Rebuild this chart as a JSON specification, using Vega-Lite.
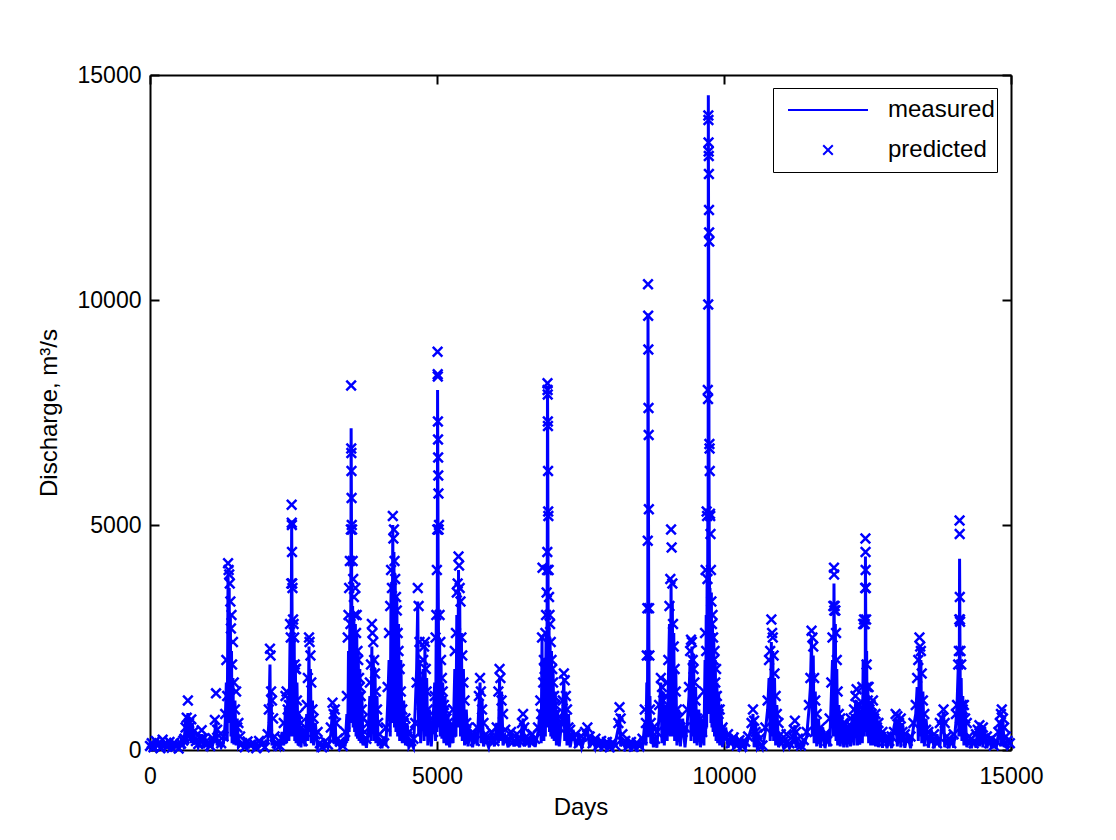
{
"$schema": "https://vega.github.io/schema/vega-lite/v6.json",
"width": 861, "height": 675,
"autosize": {"type": "none"},
"padding": {"left": 150, "top": 75, "right": 105, "bottom": 90},
"background": "white",
"data": {"values": [
{"day":0,"measured":120,"predicted":90},{"day":30,"measured":40,"predicted":150},{"day":60,"measured":180,"predicted":60},{"day":100,"measured":60,"predicted":200},{"day":140,"measured":210,"predicted":110},{"day":180,"measured":80,"predicted":40},{"day":220,"measured":150,"predicted":230},{"day":260,"measured":30,"predicted":120},{"day":300,"measured":190,"predicted":70},{"day":340,"measured":70,"predicted":180},{"day":380,"measured":140,"predicted":50},{"day":420,"measured":40,"predicted":160},{"day":460,"measured":170,"predicted":90},{"day":500,"measured":60,"predicted":30},{"day":540,"measured":200,"predicted":140},{"day":580,"measured":90,"predicted":210},
{"day":600,"measured":300,"predicted":250},{"day":620,"measured":650,"predicted":500},{"day":640,"measured":180,"predicted":720},{"day":660,"measured":820,"predicted":1100},{"day":680,"measured":250,"predicted":600},{"day":700,"measured":700,"predicted":520},{"day":720,"measured":150,"predicted":680},{"day":740,"measured":560,"predicted":300},{"day":770,"measured":120,"predicted":420},{"day":800,"measured":250,"predicted":200},{"day":840,"measured":60,"predicted":130},{"day":880,"measured":180,"predicted":240},{"day":900,"measured":350,"predicted":440},{"day":930,"measured":70,"predicted":250},{"day":970,"measured":220,"predicted":180},{"day":1010,"measured":50,"predicted":150},{"day":1050,"measured":200,"predicted":90},{"day":1090,"measured":110,"predicted":260},
{"day":1130,"measured":400,"predicted":670},{"day":1150,"measured":650,"predicted":1260},{"day":1170,"measured":100,"predicted":450},{"day":1200,"measured":180,"predicted":320},{"day":1240,"measured":60,"predicted":150},{"day":1280,"measured":150,"predicted":300},
{"day":1310,"measured":600,"predicted":800},{"day":1330,"measured":1500,"predicted":2000},{"day":1345,"measured":200,"predicted":1200},{"day":1360,"measured":3950,"predicted":4150},{"day":1370,"measured":800,"predicted":4000},{"day":1380,"measured":3600,"predicted":3900},{"day":1390,"measured":600,"predicted":3700},{"day":1400,"measured":3000,"predicted":3300},{"day":1410,"measured":300,"predicted":2700},{"day":1420,"measured":2200,"predicted":3000},{"day":1430,"measured":150,"predicted":1900},{"day":1445,"measured":1600,"predicted":2400},{"day":1460,"measured":120,"predicted":1500},{"day":1480,"measured":1100,"predicted":900},{"day":1500,"measured":100,"predicted":1300},{"day":1520,"measured":700,"predicted":500},{"day":1540,"measured":80,"predicted":600},{"day":1570,"measured":150,"predicted":300},
{"day":1610,"measured":80,"predicted":150},{"day":1650,"measured":200,"predicted":60},{"day":1700,"measured":60,"predicted":190},{"day":1750,"measured":170,"predicted":110},{"day":1800,"measured":50,"predicted":150},{"day":1850,"measured":150,"predicted":40},{"day":1900,"measured":90,"predicted":200},{"day":1950,"measured":210,"predicted":120},{"day":2000,"measured":70,"predicted":60},
{"day":2050,"measured":200,"predicted":350},{"day":2070,"measured":600,"predicted":900},{"day":2090,"measured":1900,"predicted":2250},{"day":2100,"measured":300,"predicted":2100},{"day":2110,"measured":1300,"predicted":1300},{"day":2125,"measured":100,"predicted":1100},{"day":2145,"measured":300,"predicted":700},{"day":2170,"measured":60,"predicted":300},{"day":2210,"measured":150,"predicted":150},{"day":2260,"measured":40,"predicted":90},{"day":2300,"measured":400,"predicted":250},{"day":2330,"measured":100,"predicted":600},
{"day":2360,"measured":900,"predicted":1200},{"day":2380,"measured":150,"predicted":1300},{"day":2400,"measured":1200,"predicted":900},{"day":2420,"measured":200,"predicted":1000},{"day":2440,"measured":2500,"predicted":2800},{"day":2452,"measured":300,"predicted":2500},{"day":2462,"measured":3000,"predicted":3700},{"day":2468,"measured":5100,"predicted":5450},{"day":2470,"measured":4600,"predicted":5050},{"day":2472,"measured":4000,"predicted":5000},{"day":2474,"measured":3300,"predicted":4400},{"day":2477,"measured":2600,"predicted":3700},{"day":2482,"measured":600,"predicted":3600},{"day":2492,"measured":2800,"predicted":2900},{"day":2502,"measured":300,"predicted":2800},{"day":2512,"measured":2500,"predicted":2500},{"day":2522,"measured":200,"predicted":1900},{"day":2532,"measured":2000,"predicted":1800},{"day":2545,"measured":150,"predicted":1800},{"day":2560,"measured":1500,"predicted":1100},{"day":2580,"measured":100,"predicted":800},{"day":2600,"measured":800,"predicted":450},{"day":2630,"measured":60,"predicted":600},{"day":2660,"measured":500,"predicted":200},
{"day":2700,"measured":80,"predicted":400},{"day":2730,"measured":800,"predicted":1000},{"day":2750,"measured":200,"predicted":1600},{"day":2770,"measured":2300,"predicted":2500},{"day":2780,"measured":400,"predicted":2400},{"day":2795,"measured":1800,"predicted":2100},{"day":2810,"measured":150,"predicted":1500},{"day":2830,"measured":1100,"predicted":900},{"day":2850,"measured":100,"predicted":700},{"day":2880,"measured":600,"predicted":350},{"day":2920,"measured":50,"predicted":400},{"day":2960,"measured":150,"predicted":150},{"day":3000,"measured":60,"predicted":60},{"day":3050,"measured":180,"predicted":190},{"day":3100,"measured":50,"predicted":120},
{"day":3150,"measured":350,"predicted":500},{"day":3180,"measured":900,"predicted":1050},{"day":3200,"measured":150,"predicted":800},{"day":3220,"measured":1000,"predicted":900},{"day":3240,"measured":100,"predicted":600},{"day":3270,"measured":250,"predicted":250},{"day":3310,"measured":50,"predicted":180},{"day":3360,"measured":200,"predicted":90},{"day":3400,"measured":80,"predicted":400},
{"day":3430,"measured":800,"predicted":1200},{"day":3445,"measured":200,"predicted":2500},{"day":3458,"measured":2200,"predicted":3000},{"day":3470,"measured":400,"predicted":3600},{"day":3482,"measured":3000,"predicted":4200},{"day":3492,"measured":600,"predicted":2800},{"day":3500,"measured":4000,"predicted":4900},{"day":3504,"measured":7150,"predicted":8100},{"day":3506,"measured":6500,"predicted":6700},{"day":3508,"measured":5800,"predicted":6600},{"day":3510,"measured":5000,"predicted":6200},{"day":3512,"measured":4200,"predicted":5600},{"day":3515,"measured":3500,"predicted":5000},{"day":3520,"measured":800,"predicted":4900},{"day":3530,"measured":3200,"predicted":4200},{"day":3540,"measured":500,"predicted":3800},{"day":3552,"measured":3000,"predicted":3400},{"day":3565,"measured":400,"predicted":3000},{"day":3578,"measured":2800,"predicted":3600},{"day":3590,"measured":300,"predicted":2600},{"day":3602,"measured":2600,"predicted":3000},{"day":3615,"measured":250,"predicted":2200},{"day":3628,"measured":2200,"predicted":2000},{"day":3642,"measured":200,"predicted":1600},{"day":3656,"measured":1800,"predicted":1400},{"day":3672,"measured":150,"predicted":1200},{"day":3690,"measured":1300,"predicted":900},{"day":3710,"measured":100,"predicted":700},{"day":3740,"measured":300,"predicted":400},{"day":3770,"measured":50,"predicted":250},
{"day":3800,"measured":400,"predicted":600},{"day":3830,"measured":1200,"predicted":1500},{"day":3850,"measured":200,"predicted":1900},{"day":3865,"measured":2300,"predicted":2800},{"day":3875,"measured":400,"predicted":2600},{"day":3890,"measured":2100,"predicted":2400},{"day":3905,"measured":200,"predicted":2000},{"day":3920,"measured":1800,"predicted":1700},{"day":3935,"measured":150,"predicted":1300},{"day":3955,"measured":1200,"predicted":900},{"day":3975,"measured":100,"predicted":600},{"day":4000,"measured":250,"predicted":350},{"day":4040,"measured":40,"predicted":200},{"day":4080,"measured":300,"predicted":150},{"day":4110,"measured":100,"predicted":500},
{"day":4140,"measured":1000,"predicted":1400},{"day":4165,"measured":2000,"predicted":2600},{"day":4185,"measured":300,"predicted":3200},{"day":4200,"measured":3700,"predicted":4000},{"day":4215,"measured":600,"predicted":3600},{"day":4230,"measured":5000,"predicted":5200},{"day":4240,"measured":800,"predicted":4700},{"day":4250,"measured":4400,"predicted":4900},{"day":4260,"measured":500,"predicted":4200},{"day":4272,"measured":3900,"predicted":3800},{"day":4285,"measured":400,"predicted":3400},{"day":4300,"measured":3400,"predicted":3100},{"day":4315,"measured":300,"predicted":2600},{"day":4330,"measured":2800,"predicted":2200},{"day":4350,"measured":200,"predicted":1800},{"day":4370,"measured":2000,"predicted":1300},{"day":4395,"measured":150,"predicted":900},{"day":4420,"measured":1100,"predicted":600},{"day":4450,"measured":100,"predicted":700},{"day":4480,"measured":600,"predicted":300},{"day":4510,"measured":60,"predicted":400},{"day":4550,"measured":150,"predicted":200},{"day":4590,"measured":50,"predicted":250},
{"day":4620,"measured":900,"predicted":600},{"day":4645,"measured":1800,"predicted":1500},{"day":4665,"measured":3300,"predicted":3600},{"day":4680,"measured":300,"predicted":3200},{"day":4695,"measured":2000,"predicted":2400},{"day":4715,"measured":150,"predicted":1400},{"day":4735,"measured":1200,"predicted":1000},{"day":4760,"measured":1800,"predicted":2000},{"day":4775,"measured":200,"predicted":2300},{"day":4790,"measured":2300,"predicted":2400},{"day":4805,"measured":300,"predicted":1800},{"day":4820,"measured":1600,"predicted":1300},{"day":4840,"measured":100,"predicted":900},{"day":4870,"measured":900,"predicted":500},{"day":4900,"measured":80,"predicted":700},{"day":4930,"measured":600,"predicted":400},
{"day":4960,"measured":1500,"predicted":1200},{"day":4975,"measured":200,"predicted":2500},{"day":4988,"measured":3000,"predicted":3000},{"day":4998,"measured":400,"predicted":4000},{"day":5006,"measured":4000,"predicted":4900},{"day":5010,"measured":8000,"predicted":8850},{"day":5012,"measured":7200,"predicted":8350},{"day":5014,"measured":6500,"predicted":8300},{"day":5016,"measured":5800,"predicted":7300},{"day":5018,"measured":5000,"predicted":6900},{"day":5020,"measured":4200,"predicted":6500},{"day":5022,"measured":3500,"predicted":6100},{"day":5025,"measured":2800,"predicted":5700},{"day":5028,"measured":2000,"predicted":4900},{"day":5035,"measured":500,"predicted":5000},{"day":5045,"measured":2500,"predicted":3000},{"day":5058,"measured":300,"predicted":2400},{"day":5070,"measured":2000,"predicted":2000},{"day":5085,"measured":250,"predicted":1600},{"day":5100,"measured":1500,"predicted":1300},{"day":5120,"measured":150,"predicted":1000},{"day":5140,"measured":1200,"predicted":900},{"day":5165,"measured":100,"predicted":700},{"day":5190,"measured":800,"predicted":600},{"day":5220,"measured":60,"predicted":500},{"day":5250,"measured":600,"predicted":400},{"day":5280,"measured":150,"predicted":900},
{"day":5310,"measured":1800,"predicted":2200},{"day":5330,"measured":300,"predicted":2600},{"day":5345,"measured":3000,"predicted":3500},{"day":5360,"measured":500,"predicted":3700},{"day":5375,"measured":4000,"predicted":4300},{"day":5385,"measured":600,"predicted":4100},{"day":5395,"measured":3500,"predicted":3600},{"day":5410,"measured":300,"predicted":3300},{"day":5425,"measured":2600,"predicted":2500},{"day":5440,"measured":200,"predicted":2100},{"day":5460,"measured":1800,"predicted":1500},{"day":5480,"measured":100,"predicted":1100},{"day":5510,"measured":900,"predicted":600},{"day":5540,"measured":80,"predicted":500},{"day":5580,"measured":450,"predicted":250},{"day":5620,"measured":60,"predicted":350},{"day":5660,"measured":400,"predicted":200},{"day":5700,"measured":100,"predicted":500},
{"day":5730,"measured":1000,"predicted":1200},{"day":5750,"measured":1500,"predicted":1600},{"day":5765,"measured":150,"predicted":1300},{"day":5785,"measured":1100,"predicted":900},{"day":5810,"measured":80,"predicted":600},{"day":5850,"measured":250,"predicted":350},{"day":5900,"measured":60,"predicted":250},{"day":5950,"measured":400,"predicted":400},{"day":6000,"measured":80,"predicted":200},{"day":6040,"measured":600,"predicted":500},
{"day":6070,"measured":150,"predicted":1300},{"day":6090,"measured":1600,"predicted":1800},{"day":6105,"measured":200,"predicted":1600},{"day":6125,"measured":1300,"predicted":1100},{"day":6150,"measured":100,"predicted":800},{"day":6190,"measured":300,"predicted":450},{"day":6240,"measured":60,"predicted":250},{"day":6290,"measured":400,"predicted":400},{"day":6340,"measured":80,"predicted":200},{"day":6390,"measured":300,"predicted":350},{"day":6440,"measured":60,"predicted":200},
{"day":6480,"measured":500,"predicted":600},{"day":6500,"measured":700,"predicted":800},{"day":6520,"measured":80,"predicted":500},{"day":6560,"measured":300,"predicted":300},{"day":6610,"measured":60,"predicted":200},{"day":6660,"measured":350,"predicted":350},{"day":6710,"measured":70,"predicted":250},{"day":6760,"measured":400,"predicted":500},
{"day":6800,"measured":900,"predicted":1100},{"day":6815,"measured":150,"predicted":800},{"day":6830,"measured":2500,"predicted":2500},{"day":6838,"measured":400,"predicted":4050},{"day":6850,"measured":1800,"predicted":1500},{"day":6862,"measured":200,"predicted":2000},{"day":6875,"measured":2000,"predicted":1800},{"day":6888,"measured":300,"predicted":2600},{"day":6900,"measured":2600,"predicted":3000},{"day":6910,"measured":500,"predicted":3500},{"day":6918,"measured":3000,"predicted":4000},{"day":6922,"measured":5000,"predicted":4400},{"day":6925,"measured":8100,"predicted":8150},{"day":6927,"measured":7600,"predicted":8000},{"day":6929,"measured":7000,"predicted":7900},{"day":6931,"measured":6000,"predicted":7300},{"day":6933,"measured":5000,"predicted":7200},{"day":6935,"measured":4000,"predicted":6200},{"day":6937,"measured":3000,"predicted":5300},{"day":6940,"measured":2200,"predicted":5200},{"day":6945,"measured":800,"predicted":4000},{"day":6952,"measured":2800,"predicted":3400},{"day":6960,"measured":400,"predicted":3000},{"day":6970,"measured":2500,"predicted":2800},{"day":6982,"measured":300,"predicted":2400},{"day":6995,"measured":2200,"predicted":2000},{"day":7008,"measured":250,"predicted":1800},{"day":7022,"measured":1800,"predicted":1500},{"day":7040,"measured":200,"predicted":1200},{"day":7060,"measured":1300,"predicted":1000},{"day":7080,"measured":100,"predicted":800},{"day":7100,"measured":900,"predicted":700},{"day":7130,"measured":80,"predicted":500},{"day":7160,"measured":500,"predicted":600},
{"day":7190,"measured":900,"predicted":1100},{"day":7210,"measured":1600,"predicted":1700},{"day":7225,"measured":200,"predicted":1550},{"day":7245,"measured":1300,"predicted":1200},{"day":7265,"measured":100,"predicted":900},{"day":7290,"measured":800,"predicted":500},{"day":7320,"measured":60,"predicted":450},{"day":7370,"measured":450,"predicted":250},{"day":7420,"measured":60,"predicted":350},{"day":7470,"measured":350,"predicted":150},{"day":7520,"measured":50,"predicted":300},
{"day":7580,"measured":300,"predicted":400},{"day":7620,"measured":450,"predicted":500},{"day":7660,"measured":60,"predicted":300},{"day":7710,"measured":300,"predicted":150},{"day":7760,"measured":40,"predicted":250},{"day":7810,"measured":250,"predicted":100},{"day":7860,"measured":50,"predicted":200},{"day":7910,"measured":220,"predicted":80},{"day":7960,"measured":40,"predicted":180},{"day":8010,"measured":200,"predicted":60},{"day":8060,"measured":30,"predicted":170},{"day":8110,"measured":180,"predicted":100},
{"day":8160,"measured":500,"predicted":600},{"day":8180,"measured":800,"predicted":950},{"day":8200,"measured":80,"predicted":700},{"day":8230,"measured":200,"predicted":350},{"day":8280,"measured":40,"predicted":200},{"day":8330,"measured":200,"predicted":80},{"day":8380,"measured":40,"predicted":180},{"day":8430,"measured":180,"predicted":70},{"day":8480,"measured":30,"predicted":160},{"day":8530,"measured":200,"predicted":90},{"day":8580,"measured":60,"predicted":250},
{"day":8620,"measured":600,"predicted":900},{"day":8640,"measured":100,"predicted":600},{"day":8655,"measured":1500,"predicted":2100},{"day":8665,"measured":300,"predicted":3150},{"day":8672,"measured":3000,"predicted":4650},{"day":8676,"measured":9700,"predicted":10350},{"day":8679,"measured":8000,"predicted":9650},{"day":8682,"measured":6500,"predicted":8900},{"day":8685,"measured":5000,"predicted":7600},{"day":8688,"measured":3500,"predicted":7000},{"day":8691,"measured":2500,"predicted":5350},{"day":8695,"measured":1500,"predicted":3150},{"day":8700,"measured":300,"predicted":2100},{"day":8710,"measured":1200,"predicted":900},{"day":8725,"measured":150,"predicted":600},{"day":8745,"measured":600,"predicted":400},{"day":8770,"measured":60,"predicted":500},{"day":8800,"measured":300,"predicted":250},{"day":8830,"measured":50,"predicted":400},
{"day":8870,"measured":800,"predicted":1000},{"day":8900,"measured":1500,"predicted":1600},{"day":8920,"measured":150,"predicted":1400},{"day":8940,"measured":1300,"predicted":1100},{"day":8960,"measured":100,"predicted":800},{"day":8990,"measured":1000,"predicted":1200},{"day":9010,"measured":200,"predicted":1500},
{"day":9030,"measured":1500,"predicted":2000},{"day":9050,"measured":2800,"predicted":3200},{"day":9065,"measured":300,"predicted":3800},{"day":9078,"measured":3700,"predicted":4900},{"day":9088,"measured":500,"predicted":4500},{"day":9100,"measured":3300,"predicted":3700},{"day":9112,"measured":300,"predicted":2800},{"day":9125,"measured":2600,"predicted":2300},{"day":9140,"measured":200,"predicted":1800},{"day":9160,"measured":1800,"predicted":1300},{"day":9180,"measured":100,"predicted":900},{"day":9210,"measured":900,"predicted":700},{"day":9240,"measured":80,"predicted":500},{"day":9280,"measured":700,"predicted":400},{"day":9320,"measured":60,"predicted":500},{"day":9360,"measured":600,"predicted":900},
{"day":9390,"measured":1200,"predicted":1400},{"day":9410,"measured":2000,"predicted":2200},{"day":9425,"measured":200,"predicted":2450},{"day":9440,"measured":2300,"predicted":2400},{"day":9455,"measured":300,"predicted":2000},{"day":9470,"measured":2100,"predicted":1800},{"day":9485,"measured":150,"predicted":1500},{"day":9505,"measured":1400,"predicted":1100},{"day":9530,"measured":100,"predicted":700},{"day":9560,"measured":900,"predicted":500},{"day":9590,"measured":60,"predicted":700},{"day":9620,"measured":700,"predicted":400},{"day":9650,"measured":100,"predicted":1300},
{"day":9670,"measured":2000,"predicted":2600},{"day":9680,"measured":300,"predicted":4000},{"day":9690,"measured":3000,"predicted":2200},{"day":9698,"measured":500,"predicted":5300},{"day":9706,"measured":4000,"predicted":5200},{"day":9712,"measured":800,"predicted":3800},{"day":9718,"measured":5200,"predicted":8000},{"day":9722,"measured":2000,"predicted":7800},{"day":9725,"measured":9000,"predicted":9900},{"day":9727,"measured":14550,"predicted":14100},{"day":9729,"measured":13000,"predicted":14000},{"day":9731,"measured":12000,"predicted":13500},{"day":9733,"measured":11000,"predicted":13300},{"day":9735,"measured":9500,"predicted":13200},{"day":9737,"measured":8000,"predicted":12800},{"day":9739,"measured":6500,"predicted":12000},{"day":9741,"measured":5500,"predicted":11500},{"day":9743,"measured":4800,"predicted":11300},{"day":9746,"measured":4000,"predicted":6800},{"day":9749,"measured":3500,"predicted":6700},{"day":9752,"measured":1000,"predicted":6200},{"day":9756,"measured":3600,"predicted":5250},{"day":9760,"measured":800,"predicted":5200},{"day":9765,"measured":3000,"predicted":4800},{"day":9772,"measured":600,"predicted":4000},{"day":9780,"measured":3500,"predicted":3300},{"day":9790,"measured":500,"predicted":2800},{"day":9800,"measured":2800,"predicted":3000},{"day":9810,"measured":400,"predicted":2500},{"day":9822,"measured":2600,"predicted":2000},{"day":9835,"measured":300,"predicted":2200},{"day":9848,"measured":2000,"predicted":1500},{"day":9862,"measured":200,"predicted":1800},{"day":9876,"measured":1500,"predicted":1200},{"day":9890,"measured":150,"predicted":900},{"day":9905,"measured":1300,"predicted":800},{"day":9925,"measured":100,"predicted":900},{"day":9950,"measured":800,"predicted":450},{"day":9975,"measured":60,"predicted":500},
{"day":10030,"measured":500,"predicted":250},{"day":10070,"measured":50,"predicted":350},{"day":10120,"measured":350,"predicted":150},{"day":10170,"measured":40,"predicted":280},{"day":10220,"measured":280,"predicted":100},{"day":10270,"measured":40,"predicted":220},{"day":10320,"measured":200,"predicted":80},{"day":10370,"measured":30,"predicted":180},{"day":10420,"measured":250,"predicted":300},
{"day":10480,"measured":500,"predicted":600},{"day":10505,"measured":800,"predicted":900},{"day":10525,"measured":60,"predicted":650},{"day":10550,"measured":600,"predicted":400},{"day":10580,"measured":50,"predicted":350},{"day":10620,"measured":150,"predicted":250},{"day":10670,"measured":30,"predicted":100},{"day":10720,"measured":400,"predicted":500},
{"day":10760,"measured":900,"predicted":1100},{"day":10785,"measured":1600,"predicted":2000},{"day":10805,"measured":200,"predicted":2200},{"day":10825,"measured":2400,"predicted":2900},{"day":10838,"measured":300,"predicted":2600},{"day":10850,"measured":2200,"predicted":2500},{"day":10865,"measured":200,"predicted":2100},{"day":10880,"measured":1600,"predicted":1700},{"day":10900,"measured":100,"predicted":1200},{"day":10920,"measured":1000,"predicted":800},{"day":10950,"measured":60,"predicted":600},{"day":10990,"measured":250,"predicted":350},{"day":11040,"measured":40,"predicted":200},{"day":11090,"measured":200,"predicted":350},{"day":11140,"measured":40,"predicted":150},{"day":11190,"measured":150,"predicted":300},
{"day":11215,"measured":400,"predicted":450},{"day":11235,"measured":550,"predicted":650},{"day":11255,"measured":50,"predicted":400},{"day":11290,"measured":150,"predicted":250},{"day":11340,"measured":30,"predicted":100},{"day":11390,"measured":100,"predicted":220},{"day":11440,"measured":300,"predicted":400},
{"day":11480,"measured":900,"predicted":1000},{"day":11505,"measured":1400,"predicted":1600},{"day":11525,"measured":2500,"predicted":2650},{"day":11540,"measured":300,"predicted":2500},{"day":11555,"measured":2100,"predicted":2300},{"day":11570,"measured":150,"predicted":1600},{"day":11590,"measured":1300,"predicted":1100},{"day":11615,"measured":80,"predicted":800},{"day":11645,"measured":700,"predicted":400},{"day":11680,"measured":50,"predicted":500},{"day":11720,"measured":500,"predicted":250},{"day":11760,"measured":40,"predicted":350},{"day":11800,"measured":400,"predicted":200},{"day":11840,"measured":80,"predicted":700},
{"day":11870,"measured":1200,"predicted":1500},{"day":11890,"measured":2000,"predicted":2500},{"day":11905,"measured":300,"predicted":3200},{"day":11916,"measured":3700,"predicted":4050},{"day":11918,"measured":3300,"predicted":3900},{"day":11921,"measured":2800,"predicted":3100},{"day":11928,"measured":400,"predicted":3200},{"day":11940,"measured":2800,"predicted":3100},{"day":11952,"measured":200,"predicted":2600},{"day":11965,"measured":1800,"predicted":2000},{"day":11980,"measured":100,"predicted":1300},{"day":12000,"measured":1000,"predicted":800},{"day":12025,"measured":80,"predicted":700},{"day":12055,"measured":700,"predicted":400},{"day":12085,"measured":60,"predicted":600},{"day":12115,"measured":600,"predicted":350},{"day":12145,"measured":60,"predicted":500},{"day":12175,"measured":600,"predicted":300},{"day":12205,"measured":80,"predicted":700},{"day":12235,"measured":800,"predicted":500},{"day":12265,"measured":100,"predicted":900},
{"day":12290,"measured":1000,"predicted":1200},{"day":12310,"measured":1100,"predicted":1350},{"day":12325,"measured":100,"predicted":1000},{"day":12345,"measured":1000,"predicted":800},{"day":12365,"measured":120,"predicted":1000},{"day":12390,"measured":900,"predicted":700},{"day":12410,"measured":150,"predicted":1400},
{"day":12425,"measured":2000,"predicted":2800},{"day":12440,"measured":300,"predicted":2900},{"day":12452,"measured":2000,"predicted":2800},{"day":12460,"measured":400,"predicted":3600},{"day":12464,"measured":4300,"predicted":4700},{"day":12466,"measured":3800,"predicted":4400},{"day":12468,"measured":3300,"predicted":4000},{"day":12471,"measured":2600,"predicted":3600},{"day":12475,"measured":600,"predicted":2900},{"day":12485,"measured":2200,"predicted":1900},{"day":12495,"measured":300,"predicted":1400},{"day":12505,"measured":1500,"predicted":1100},{"day":12520,"measured":150,"predicted":1400},{"day":12535,"measured":1100,"predicted":900},{"day":12555,"measured":100,"predicted":1000},{"day":12575,"measured":1000,"predicted":800},{"day":12595,"measured":100,"predicted":1100},{"day":12615,"measured":900,"predicted":700},{"day":12640,"measured":80,"predicted":800},{"day":12665,"measured":800,"predicted":500},{"day":12690,"measured":60,"predicted":600},{"day":12720,"measured":550,"predicted":300},{"day":12760,"measured":50,"predicted":400},{"day":12800,"measured":400,"predicted":200},{"day":12840,"measured":40,"predicted":300},
{"day":12880,"measured":350,"predicted":200},{"day":12920,"measured":40,"predicted":300},{"day":12960,"measured":500,"predicted":400},{"day":12990,"measured":700,"predicted":800},{"day":13020,"measured":80,"predicted":750},{"day":13050,"measured":800,"predicted":600},{"day":13080,"measured":60,"predicted":700},{"day":13110,"measured":600,"predicted":400},{"day":13150,"measured":50,"predicted":350},{"day":13200,"measured":350,"predicted":200},{"day":13250,"measured":40,"predicted":300},{"day":13300,"measured":500,"predicted":600},
{"day":13340,"measured":800,"predicted":1000},{"day":13365,"measured":1400,"predicted":1600},{"day":13385,"measured":200,"predicted":2000},{"day":13405,"measured":2300,"predicted":2500},{"day":13418,"measured":300,"predicted":2300},{"day":13430,"measured":2000,"predicted":2200},{"day":13445,"measured":150,"predicted":1700},{"day":13465,"measured":1300,"predicted":1100},{"day":13490,"measured":80,"predicted":800},{"day":13520,"measured":700,"predicted":450},{"day":13560,"measured":50,"predicted":400},{"day":13610,"measured":450,"predicted":200},{"day":13660,"measured":40,"predicted":350},{"day":13710,"measured":350,"predicted":150},{"day":13760,"measured":60,"predicted":600},
{"day":13800,"measured":700,"predicted":700},{"day":13825,"measured":850,"predicted":900},{"day":13845,"measured":60,"predicted":600},{"day":13880,"measured":250,"predicted":300},{"day":13920,"measured":40,"predicted":250},{"day":13960,"measured":300,"predicted":150},{"day":14000,"measured":50,"predicted":350},{"day":14040,"measured":600,"predicted":800},
{"day":14060,"measured":1000,"predicted":1000},{"day":14080,"measured":1800,"predicted":1900},{"day":14092,"measured":300,"predicted":2200},{"day":14100,"measured":2000,"predicted":2900},{"day":14104,"measured":4250,"predicted":5100},{"day":14106,"measured":3800,"predicted":4800},{"day":14108,"measured":3200,"predicted":3400},{"day":14110,"measured":2600,"predicted":2900},{"day":14113,"measured":2000,"predicted":2850},{"day":14120,"measured":300,"predicted":2200},{"day":14132,"measured":1600,"predicted":1900},{"day":14145,"measured":200,"predicted":1000},{"day":14160,"measured":1200,"predicted":900},{"day":14180,"measured":100,"predicted":1000},{"day":14200,"measured":900,"predicted":700},{"day":14230,"measured":60,"predicted":600},{"day":14270,"measured":250,"predicted":300},{"day":14310,"measured":40,"predicted":250},{"day":14350,"measured":250,"predicted":150},
{"day":14390,"measured":50,"predicted":350},{"day":14420,"measured":500,"predicted":450},{"day":14450,"measured":80,"predicted":550},{"day":14480,"measured":550,"predicted":400},{"day":14510,"measured":60,"predicted":500},{"day":14540,"measured":450,"predicted":250},{"day":14580,"measured":40,"predicted":300},{"day":14620,"measured":300,"predicted":150},{"day":14660,"measured":40,"predicted":250},{"day":14700,"measured":250,"predicted":100},{"day":14740,"measured":30,"predicted":200},
{"day":14780,"measured":350,"predicted":400},{"day":14805,"measured":600,"predicted":600},{"day":14825,"measured":80,"predicted":800},{"day":14840,"measured":500,"predicted":900},{"day":14860,"measured":650,"predicted":700},{"day":14880,"measured":60,"predicted":500},{"day":14910,"measured":200,"predicted":300},{"day":14940,"measured":40,"predicted":200},{"day":14980,"measured":100,"predicted":150}
]},
"layer": [
{
"mark": {"type": "line", "color": "#0000ff", "strokeWidth": 3},
"encoding": {
"x": {"field": "day", "type": "quantitative", "scale": {"domain": [0, 15000], "nice": false},
"axis": {"orient": "bottom", "values": [0, 5000, 10000, 15000], "format": "d", "title": "Days", "labelPadding": 24, "titlePadding": 7}},
"y": {"field": "measured", "type": "quantitative", "scale": {"domain": [0, 15000], "nice": false},
"axis": {"orient": "left", "values": [0, 5000, 10000, 15000], "format": "d", "title": "Discharge, m³/s", "labelPadding": 18, "titlePadding": 16}}
}
},
{
"mark": {"type": "point", "filled": false, "color": "#0000ff", "strokeWidth": 2.5, "size": 6400, "opacity": 1},
"encoding": {
"x": {"field": "day", "type": "quantitative",
"axis": {"orient": "top", "values": [0, 5000, 10000, 15000], "labels": false, "title": null}},
"y": {"field": "predicted", "type": "quantitative",
"axis": {"orient": "right", "values": [0, 5000, 10000, 15000], "labels": false, "title": null}},
"shape": {"datum": "predicted", "type": "nominal",
"scale": {"domain": ["measured", "predicted"], "range": ["M-1,0L1,0", "M-0.12,-0.12L0.12,0.12M-0.12,0.12L0.12,-0.12"]},
"legend": {"title": null, "orient": "none", "legendX": 623, "legendY": 13, "padding": 2, "clipHeight": 40, "rowPadding": 0,
"symbolSize": 6400, "symbolStrokeWidth": 2, "symbolStrokeColor": "#0000ff", "symbolFillColor": "transparent", "symbolOpacity": 1,
"symbolOffset": 12, "labelOffset": 19, "labelFont": "Liberation Sans", "labelFontSize": 24, "labelColor": "#000000", "labelLimit": 400,
"strokeColor": "#000000", "fillColor": "#ffffff",
"encode": {"legend": {"update": {"strokeWidth": {"value": 2}}}}}}
}
}
],
"config": {
"view": {"stroke": null},
"axis": {"grid": false, "domainColor": "#000000", "domainWidth": 2, "tickColor": "#000000", "tickWidth": 2, "tickSize": -9,
"labelFont": "Liberation Sans", "labelFontSize": 23, "labelColor": "#000000", "labelFlush": false, "labelOverlap": false,
"titleFont": "Liberation Sans", "titleFontSize": 24, "titleFontWeight": "normal", "titleColor": "#000000"}
}
}
